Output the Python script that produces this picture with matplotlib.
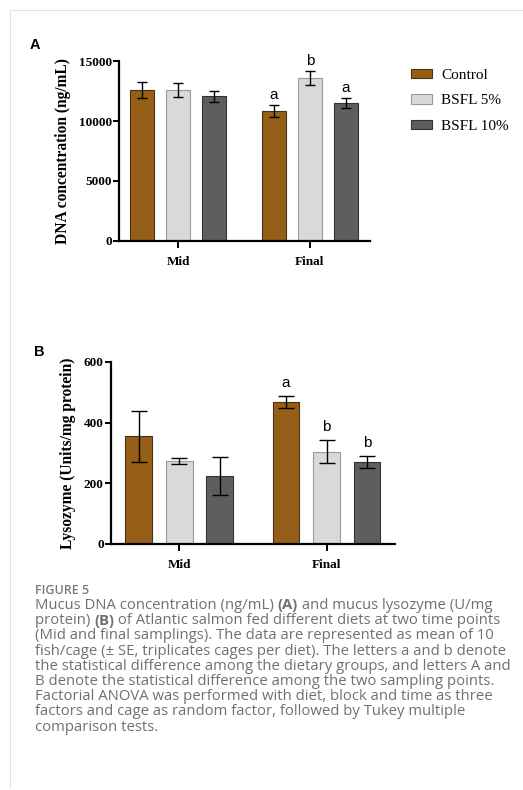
import matplotlib

matplotlib.use("Agg")
import matplotlib.pyplot as plt
import numpy as np
from matplotlib.lines import Line2D
from matplotlib.patches import Patch

W, H = 523, 790

groups = ["Mid", "Final"]
diets = ["Control", "BSFL 5%", "BSFL 10%"]
colors = ["#955f18", "#d9d9d9", "#5e5e5e"]
edges = ["#4a3210", "#9a9a9a", "#333333"]

# panel A: mucus DNA concentration (ng/mL), rows = diets, cols = Mid, Final
dna_mean = [[12600, 10850], [12580, 13600], [12080, 11520]]
dna_se = [[630, 520], [580, 560], [460, 450]]
dna_letters = [["", "a"], ["", "b"], ["", "a"]]

# panel B: lysozyme (U/mg protein)
lys_mean = [[354, 467], [273, 303], [223, 269]]
lys_se = [[85, 20], [10, 38], [62, 19]]
lys_letters = [["", "a"], ["", "b"], ["", "b"]]

caption_head = "FIGURE 5"
caption_lines = [
    [("Mucus DNA concentration (ng/mL) ", "normal"), ("(A)", "bold"),
     (" and mucus lysozyme (U/mg", "normal")],
    [("protein) ", "normal"), ("(B)", "bold"),
     (" of Atlantic salmon fed different diets at two time points", "normal")],
    [("(Mid and final samplings). The data are represented as mean of 10", "normal")],
    [("fish/cage (\u00b1 SE, triplicates cages per diet). The letters a and b denote", "normal")],
    [("the statistical difference among the dietary groups, and letters A and", "normal")],
    [("B denote the statistical difference among the two sampling points.", "normal")],
    [("Factorial ANOVA was performed with diet, block and time as three", "normal")],
    [("factors and cage as random factor, followed by Tukey multiple", "normal")],
    [("comparison tests.", "normal")],
]

SERIF = "Liberation Serif"
SANS = "Liberation Sans"


def px_axes(fig, left, top, right, bottom):
    return fig.add_axes([left / W, 1 - bottom / H, (right - left) / W, (bottom - top) / H])


def bar_panel(ax, means, ses, letters, gap, width, ymax, step, ylabel, capsize, letter_pad):
    centers = np.array([0.0, gap])
    offsets = [-1, 0, 1]
    for i, diet in enumerate(diets):
        x = centers + offsets[i]
        ax.bar(x, means[i], width=width, color=colors[i], edgecolor=edges[i],
               linewidth=0.8, zorder=2)
        ax.errorbar(x, means[i], yerr=ses[i], fmt="none", ecolor="black",
                    elinewidth=1.0, capsize=capsize, capthick=1.0, zorder=3)
        for j in range(2):
            if letters[i][j]:
                ax.text(x[j], means[i][j] + ses[i][j] + letter_pad, letters[i][j],
                        ha="center", va="bottom", fontsize=11, family=SANS)
    ax.set_ylim(0, ymax)
    ax.set_yticks(np.arange(0, ymax + 1, step))
    ax.set_xticks(centers)
    ax.set_xticklabels(groups)
    for s in ["top", "right"]:
        ax.spines[s].set_visible(False)
    for s in ["left", "bottom"]:
        ax.spines[s].set_linewidth(1.6)
    ax.tick_params(axis="y", length=4, width=1.4, pad=1)
    ax.tick_params(axis="x", length=5, width=1.4, pad=6)
    for lab in ax.get_yticklabels() + ax.get_xticklabels():
        lab.set_family(SERIF)
        lab.set_weight("bold")
        lab.set_fontsize(9.5)
    ax.set_ylabel(ylabel, family=SERIF, weight="bold", fontsize=11.2, labelpad=6)
    ax.patch.set_alpha(0)


fig = plt.figure(figsize=(W / 100, H / 100), dpi=100)

# thin page frame
fig.add_artist(Line2D([10 / W, 1], [1 - 10 / H, 1 - 10 / H], color="#e2e2e2", lw=0.8))
fig.add_artist(Line2D([10 / W, 10 / W], [1 - 10 / H, 1 - 788 / H], color="#e2e2e2", lw=0.8))

# panel A
axA = px_axes(fig, 119, 61.3, 370, 240.7)
bar_panel(axA, dna_mean, dna_se, dna_letters, gap=3.66, width=0.67, ymax=15000,
          step=5000, ylabel="DNA concentration (ng/mL)", capsize=3.8, letter_pad=250)
axA.set_xlim(-1.64, 5.33)

# panel B
axB = px_axes(fig, 110.7, 362, 395, 543.7)
bar_panel(axB, lys_mean, lys_se, lys_letters, gap=3.64, width=0.66, ymax=600,
          step=200, ylabel="Lysozyme (Units/mg protein)", capsize=5.5, letter_pad=20)
axB.set_xlim(-1.69, 5.33)

fig.text(35 / W, 1 - 45 / H, "A", family=SANS, weight="bold", fontsize=10.5,
         ha="center", va="center")
fig.text(39 / W, 1 - 352 / H, "B", family=SANS, weight="bold", fontsize=10.5,
         ha="center", va="center")

handles = [Patch(facecolor=c, edgecolor=e, linewidth=0.8) for c, e in zip(colors, edges)]
fig.legend(handles, diets, loc="upper left", bbox_to_anchor=(405 / W, 1 - 63 / H),
           frameon=False, prop={"family": SERIF, "size": 11}, handlelength=1.35,
           handleheight=0.55, labelspacing=0.8, handletextpad=0.6, borderaxespad=0)

# caption
fig.text(35 / W, 1 - 591 / H, caption_head, family="Open Sans", weight="semibold",
         fontsize=9, color="#7a7a7a", va="center")
renderer = fig.canvas.get_renderer()
y0, dy = 605.5, 15.2
for k, line in enumerate(caption_lines):
    x = 35.0
    y = 1 - (y0 + k * dy) / H
    for txt, wt in line:
        t = fig.text(x / W, y, txt, family="Open Sans", weight=wt, fontsize=10.7,
                     color="#707070", va="center")
        bb = t.get_window_extent(renderer=renderer)
        x += bb.width

fig.savefig("out.png", dpi=100)
